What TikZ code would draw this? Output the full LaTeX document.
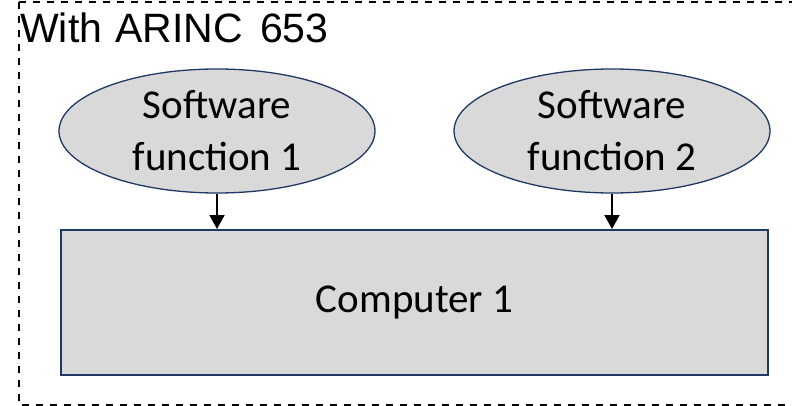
\documentclass[tikz,border=0pt]{standalone}
\usepackage{fontspec}
\setmainfont{Carlito}
\newfontfamily\titlefont{Liberation Sans}
\usetikzlibrary{shapes.geometric,arrows.meta}
\definecolor{edgeblue}{HTML}{1F3864}
\definecolor{boxgray}{HTML}{D9D9D9}
\tikzset{
  frame/.style={draw=black, line width=2pt, dash pattern=on 7pt off 7pt},
  func/.style={ellipse, draw=edgeblue, fill=boxgray, line width=1.3pt,
    minimum width=316pt, minimum height=124pt, inner sep=0pt,
    align=center, font=\fontsize{41pt}{52pt}\selectfont},
  comp/.style={rectangle, draw=edgeblue, fill=boxgray, line width=2pt,
    minimum width=707pt, minimum height=145pt, inner sep=0pt,
    font=\fontsize{41pt}{52pt}\selectfont},
  flow/.style={draw=black, line width=2pt, -{Triangle[width=15pt,length=14pt]}}
}
\begin{document}
\begin{tikzpicture}[x=1pt,y=-1pt]
  \useasboundingbox (0,0) rectangle (792,406);
  \clip (0,0) rectangle (792,406);
  % dashed partition boundary
  \draw[frame] (19,2) -- (810,2) (19,2) -- (19,405) -- (810,405);
  % title
  \node[anchor=base west, inner sep=0pt, font=\titlefont\fontsize{41pt}{48pt}\selectfont]
    (title) at (20,43) {\makebox[95pt][l]{With}\makebox[145pt][l]{ARINC}653};
  % applications
  \node[func] (sf1) at (217,131) {Software\\function 1};
  \node[func] (sf2) at (612,131) {Software\\function 2};
  % hardware
  \node[comp] (cpu) at (414.5,302.5) {Computer 1};
  % data flow into the computer
  \draw[flow] (sf1.south) -- (sf1.south |- cpu.north);
  \draw[flow] (sf2.south) -- (sf2.south |- cpu.north);
\end{tikzpicture}
\end{document}
